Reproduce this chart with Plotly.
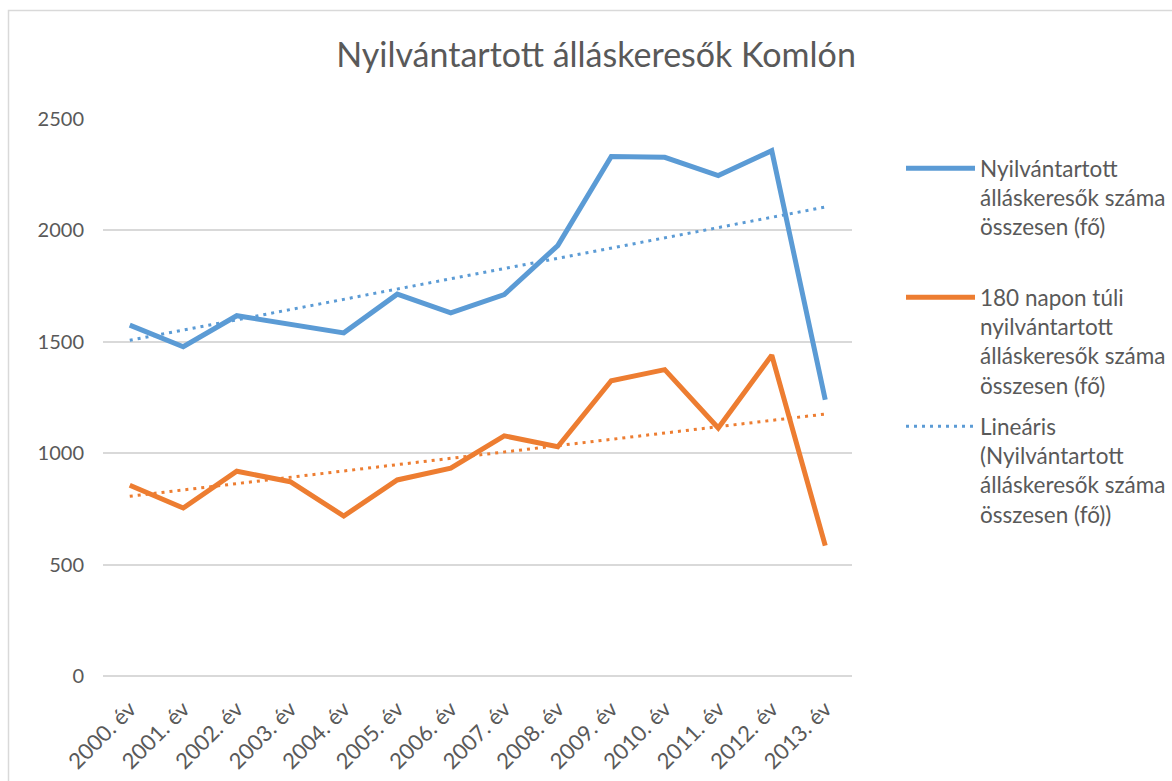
import numpy as np
import plotly.graph_objects as go

categories = ["2000. év", "2001. év", "2002. év", "2003. év", "2004. év", "2005. év", "2006. év",
              "2007. év", "2008. év", "2009. év", "2010. év", "2011. év", "2012. év", "2013. év"]
total = [1575, 1478, 1617, 1578, 1540, 1714, 1630, 1712, 1932, 2332, 2328, 2246, 2358, 1240]
long_term = [856, 754, 919, 872, 718, 880, 933, 1078, 1029, 1325, 1375, 1113, 1440, 585]

name_total = "Nyilvántartott<br>álláskeresők száma<br>összesen (fő)<br> "
name_long = "180 napon túli<br>nyilvántartott<br>álláskeresők száma<br>összesen (fő)"
name_trend = "Lineáris<br>(Nyilvántartott<br>álláskeresők száma<br>összesen (fő))"

BLUE = "#5B9BD5"
ORANGE = "#ED7D31"
TEXT = "#595959"
FONT = "Lato"

idx = np.arange(len(categories))
trend_total = np.polyval(np.polyfit(idx, total, 1), idx)
trend_long = np.polyval(np.polyfit(idx, long_term, 1), idx)

fig = go.Figure()
fig.add_trace(go.Scatter(x=categories, y=total, mode="lines", name=name_total, legendgroup="a",
                         line=dict(color=BLUE, width=5)))
fig.add_trace(go.Scatter(x=categories, y=long_term, mode="lines", name=name_long, legendgroup="b",
                         line=dict(color=ORANGE, width=5)))
fig.add_trace(go.Scatter(x=categories, y=trend_total, mode="lines", name=name_trend, legendgroup="c",
                         line=dict(color=BLUE, width=3, dash="3px,5px")))
fig.add_trace(go.Scatter(x=categories, y=trend_long, mode="lines", showlegend=False, legendgroup="d",
                         line=dict(color=ORANGE, width=3, dash="3px,5px")))

W, H = 1172, 781
ml, mr, mt, mb = 103, 320, 119, 105
pw, ph = W - ml - mr, H - mt - mb


def px(x):
    return (x - ml) / pw


def py(y):
    return 1 - (y - mt) / ph


fig.update_layout(
    width=W, height=H,
    margin=dict(l=ml, r=mr, t=mt, b=mb, autoexpand=False),
    paper_bgcolor="white", plot_bgcolor="white",
    font=dict(family=FONT, color=TEXT, size=20),
    title=dict(text="Nyilvántartott álláskeresők Komlón", x=596 / W, xanchor="center",
               y=1 - 55 / H, yanchor="middle",
               font=dict(size=34, color=TEXT, family=FONT)),
    xaxis=dict(type="category", range=[-0.5, 13.5], tickangle=-45, showgrid=False,
               showline=False, ticks="", ticklabelstandoff=15, automargin=False,
               tickfont=dict(size=22, color=TEXT)),
    yaxis=dict(range=[0, 2500], dtick=500, showgrid=True, gridcolor="#D9D9D9", gridwidth=1.5,
               zeroline=True, zerolinecolor="#D9D9D9", zerolinewidth=1.5,
               showline=False, ticks="", ticklabelstandoff=18, automargin=False,
               tickfont=dict(size=20, color=TEXT)),
    legend=dict(xref="container", yref="container", x=901 / W, xanchor="left",
                y=1 - 147 / H, yanchor="top",
                valign="top", font=dict(size=22.5, color=TEXT), itemwidth=69,
                traceorder="grouped", tracegroupgap=9, bgcolor="rgba(0,0,0,0)"),
    showlegend=True,
)

# chart area border (partially visible in reference)
fig.add_shape(type="rect", xref="paper", yref="paper",
              x0=px(8.5), x1=px(W + 20), y0=py(H + 20), y1=py(10.5),
              line=dict(color="#D9D9D9", width=1.5), fillcolor="rgba(0,0,0,0)", layer="below")

fig.write_html("out.html", config={"displayModeBar": False},
               post_script="document.body.style.margin='0';")
